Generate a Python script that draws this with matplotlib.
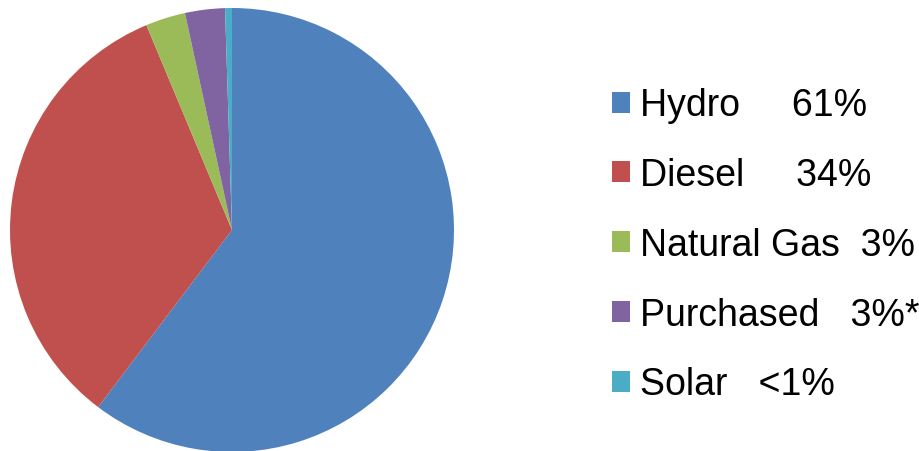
import matplotlib
matplotlib.use("Agg")
import matplotlib.pyplot as plt
from matplotlib.patches import Patch

plt.rcParams['font.family'] = ['Liberation Sans', 'DejaVu Sans']

categories = ["Hydro", "Diesel", "Natural Gas", "Purchased", "Solar"]
values = [60.3, 33.4, 2.9, 2.9, 0.5]
pct_labels = ["61%", "34%", "3%", "3%*", "<1%"]
gaps = [5, 5, 2, 3, 3]
colors = ["#4F81BD", "#C0504D", "#9BBB59", "#8064A2", "#4BACC6"]

W, H = 920, 452
fig = plt.figure(figsize=(W / 100, H / 100), dpi=100)
cx, cy, r = 232, 452 - 231, 222
ax = fig.add_axes([(cx - r) / W, (cy - r) / H, 2 * r / W, 2 * r / H])
ax.pie(values, colors=colors, startangle=90, counterclock=False,
       wedgeprops=dict(linewidth=0))
ax.set_aspect('equal')
ax.set_xlim(-1, 1)
ax.set_ylim(-1, 1)

labels = [c + " " * g + p for c, g, p in zip(categories, gaps, pct_labels)]
handles = [Patch(facecolor=c, edgecolor='none') for c in colors]
fig.legend(handles, labels, loc='center left',
           bbox_to_anchor=(612 / W, (452 - 246) / H),
           frameon=False, fontsize=27, handlelength=0.48, handleheight=0.48,
           handletextpad=0.28, labelspacing=0.90, borderpad=0, borderaxespad=0)

fig.savefig("out.png", dpi=100)
